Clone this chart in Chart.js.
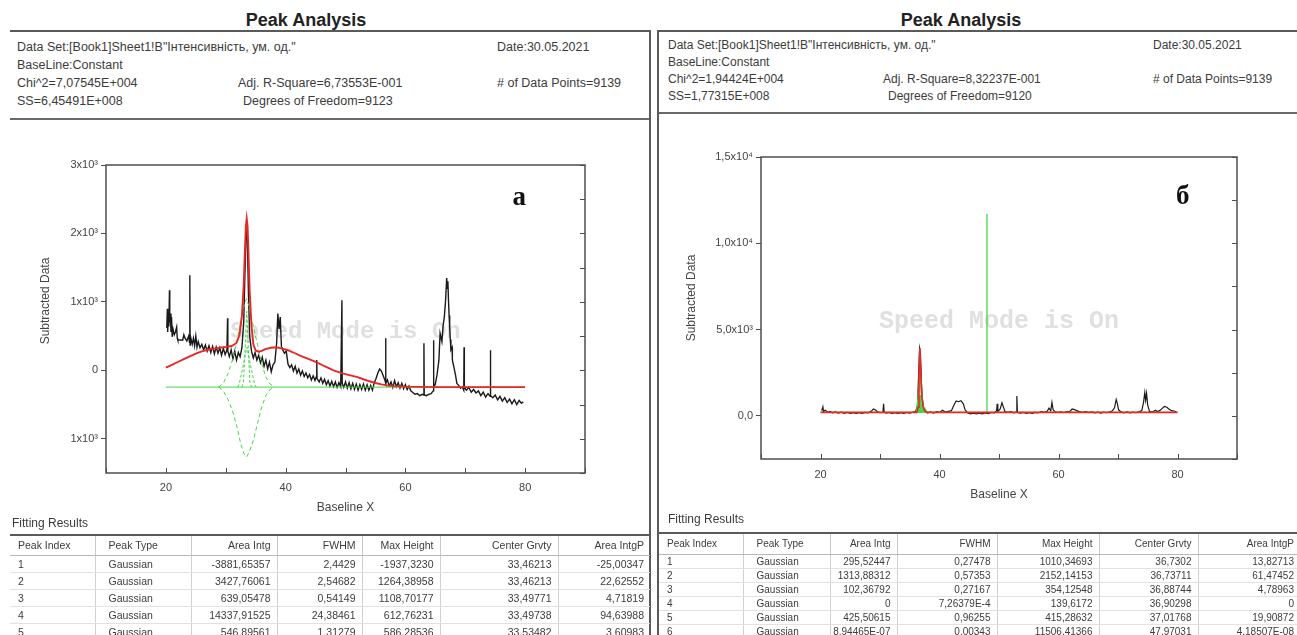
<!DOCTYPE html>
<html>
<head>
<meta charset="utf-8">
<title>Peak Analysis</title>
<script src="https://cdn.jsdelivr.net/npm/chart.js@4.4.1/dist/chart.umd.min.js"></script>
<style>
  html, body { margin: 0; padding: 0; background: #fff; }
  body { width: 1297px; height: 635px; position: relative; overflow: hidden;
         font-family: "Liberation Sans", Arial, sans-serif; color: #3c3c3c; }
  .title { position: absolute; font-weight: bold; font-size: 18px; line-height: 20px; color: #222;
           transform: translateX(-50%); white-space: nowrap; }
  .rule { position: absolute; background: #5a5a5a; }
  .info { position: absolute; line-height: 14px; white-space: nowrap; }
  .caption { position: absolute; font-size: 12px; line-height: 14px; white-space: nowrap; }
  canvas { position: absolute; }
  table.res { position: absolute; border-collapse: collapse; table-layout: fixed; color: #3c3c3c; }
  table.res th { font-weight: normal; border-top: 2px solid #5a5a5a; border-bottom: 1px solid #b8b8b8;
                 border-left: 1px solid #c8c8c8; white-space: nowrap; overflow: hidden; padding: 0 6px 0 2px; text-align: right; }
  table.res td { border-left: 1px solid #d0d0d0; border-bottom: 1px solid #e2e2e2; white-space: nowrap;
                 overflow: hidden; padding: 0 6px 0 2px; text-align: right; }
  table.res th:first-child, table.res td:first-child { border-left: none; text-align: left; padding-left: 8px; }
  table.res th:nth-child(2), table.res td:nth-child(2) { text-align: left; padding-left: 13px; }
</style>
</head>
<body>

<div class="title" style="left:306px; top:10px;">Peak Analysis</div>
<div class="title" style="left:961px; top:10px;">Peak Analysis</div>

<!-- report frames -->
<div class="rule" style="left:10px; top:30px; width:641px; height:2px;"></div>
<div class="rule" style="left:10px; top:118px; width:641px; height:2px; background:#6a6a6a;"></div>
<div class="rule" style="left:649px; top:30px; width:2px; height:605px;"></div>
<div class="rule" style="left:657px; top:30px; width:640px; height:2px;"></div>
<div class="rule" style="left:657px; top:112px; width:640px; height:2px; background:#6a6a6a;"></div>
<div class="rule" style="left:657px; top:30px; width:2px; height:605px;"></div>

<div id="infoA"></div>
<div id="infoB"></div>

<canvas id="chartA" width="650" height="380" style="left:0px; top:140px;"></canvas>
<canvas id="chartB" width="642" height="380" style="left:655px; top:135px;"></canvas>

<div class="caption" style="left:12px; top:516px;">Fitting Results</div>
<div class="caption" style="left:668px; top:512px;">Fitting Results</div>
<div id="tableA"></div>
<div id="tableB"></div>

<script>
// ---------- report header texts ----------
const dataSetText = 'Data Set:[Book1]Sheet1!B"Інтенсивність, ум. од."';
const dateText = 'Date:30.05.2021';
const baselineText = 'BaseLine:Constant';
const statsA = ['Chi^2=7,07545E+004', 'Adj. R-Square=6,73553E-001', '# of Data Points=9139', 'SS=6,45491E+008', 'Degrees of Freedom=9123'];
const statsB = ['Chi^2=1,94424E+004', 'Adj. R-Square=8,32237E-001', '# of Data Points=9139', 'SS=1,77315E+008', 'Degrees of Freedom=9120'];

// ---------- fitting results ----------
const tableHeader = ['Peak Index', 'Peak Type', 'Area Intg', 'FWHM', 'Max Height', 'Center Grvty', 'Area IntgP'];
const peakIndexA = ['1', '2', '3', '4', '5'];
const peakTypeA  = ['Gaussian', 'Gaussian', 'Gaussian', 'Gaussian', 'Gaussian'];
const areaA      = ['-3881,65357', '3427,76061', '639,05478', '14337,91525', '546,89561'];
const fwhmA      = ['2,4429', '2,54682', '0,54149', '24,38461', '1,31279'];
const heightA    = ['-1937,3230', '1264,38958', '1108,70177', '612,76231', '586,28536'];
const centerA    = ['33,46213', '33,46213', '33,49771', '33,49738', '33,53482'];
const areaPctA   = ['-25,00347', '22,62552', '4,71819', '94,63988', '3,60983'];

const peakIndexB = ['1', '2', '3', '4', '5', '6'];
const peakTypeB  = ['Gaussian', 'Gaussian', 'Gaussian', 'Gaussian', 'Gaussian', 'Gaussian'];
const areaB      = ['295,52447', '1313,88312', '102,36792', '0', '425,50615', '8,94465E-07'];
const fwhmB      = ['0,27478', '0,57353', '0,27167', '7,26379E-4', '0,96255', '0,00343'];
const heightB    = ['1010,34693', '2152,14153', '354,12548', '139,6172', '415,28632', '11506,41366'];
const centerB    = ['36,7302', '36,73711', '36,88744', '36,90298', '37,01768', '47,97031'];
const areaPctB   = ['13,82713', '61,47452', '4,78963', '0', '19,90872', '4,18507E-08'];

// ---------- axes ----------
const xTicks = [20, 40, 60, 80];
const yTicksA = [-1000, 0, 1000, 2000, 3000];
const yLabelsA = ['1x10³', '0', '1x10³', '2x10³', '3x10³'];
const yTicksB = [0, 5000, 10000, 15000];
const yLabelsB = ['0,0', '5,0x10³', '1,0x10⁴', '1,5x10⁴'];

// ---------- chart (а): subtracted data, cumulative fit, peaks ----------
const dataA = [
  [20.15,620],[20.25,900],[20.3,560],[20.4,760],[20.5,640],[20.6,1170],[20.65,700],[20.75,830],[20.85,560],[20.95,780],
  [21.05,490],[21.2,600],[21.4,520],[21.6,560],[21.8,630],[21.9,470],[22.0,440],[22.4,445],[22.8,440],[23.0,520],
  [23.2,470],[23.5,430],[23.8,500],[23.95,410],[24.0,1390],[24.05,360],[24.2,460],[24.4,380],[24.6,470],[24.8,360],
  [25.0,500],[25.2,340],[25.4,420],[25.7,330],[26.0,380],[26.3,300],[26.6,370],[26.9,280],[27.2,360],[27.5,260],
  [27.8,350],[28.1,240],[28.4,340],[28.7,250],[29.0,330],[29.3,220],[29.6,320],[29.9,230],[30.2,300],[30.3,760],
  [30.35,280],[30.6,200],[30.9,300],[31.2,170],[31.5,280],[31.8,150],[32.1,260],[32.4,200],[32.7,330],[33.0,700],
  [33.2,1400],[33.4,2000],[33.5,2100],[33.6,1950],[33.8,1100],[34.0,500],[34.3,280],[34.6,180],[34.9,260],[35.2,150],
  [35.5,220],[35.8,110],[36.1,190],[36.4,60],[36.7,150],[37.0,20],[37.3,120],[37.6,-20],[37.9,80],[38.2,120],
  [38.5,400],[38.7,830],[38.9,600],[39.1,780],[39.3,350],[39.5,300],[39.8,250],[40.1,280],[40.4,90],[40.7,40],
  [41.0,80],[41.3,-10],[41.6,60],[41.9,-40],[42.2,20],[42.5,-70],[42.8,-10],[43.1,-90],[43.4,-40],[43.7,-110],
  [44.0,-60],[44.3,-140],[44.6,-80],[44.9,-150],[45.15,-90],[45.2,150],[45.25,-120],[45.6,-170],[45.9,-110],[46.2,-190],
  [46.5,-130],[46.8,-210],[47.1,-150],[47.4,-230],[47.7,-160],[48.0,-240],[48.3,-170],[48.6,-250],[48.9,-180],[49.2,-240],
  [49.4,1025],[49.45,-190],[49.7,-250],[50.0,-170],[50.3,-260],[50.6,-180],[50.9,-270],[51.2,-190],[51.5,-280],[51.8,-200],
  [52.1,-290],[52.4,-210],[52.7,-280],[53.0,-200],[53.3,-290],[53.6,-210],[53.9,-290],[54.2,-220],[54.5,-290],[54.8,-180],
  [55.1,-120],[55.4,-40],[55.7,20],[56.0,-10],[56.3,-80],[56.6,-150],[56.7,468],[56.75,-190],[57.0,-140],[57.3,-230],
  [57.6,-170],[57.9,-250],[58.2,-150],[58.5,-240],[58.8,-180],[59.1,-260],[59.4,-190],[59.7,-270],[60.0,-210],[60.3,-280],
  [60.6,-230],[60.9,-300],[61.2,-320],[61.6,-350],[62.0,-340],[62.4,-370],[62.8,-350],[63.05,-360],[63.1,395],[63.15,-360],
  [63.5,-370],[63.9,-350],[64.3,-340],[64.65,-300],[64.7,439],[64.75,-260],[65.0,-200],[65.3,-60],[65.6,150],[65.8,540],
  [66.1,420],[66.3,650],[66.5,776],[66.7,1000],[66.9,1347],[67.0,1200],[67.1,1300],[67.2,1025],[67.3,800],[67.4,630],
  [67.5,450],[67.6,300],[67.8,337],[67.85,150],[68.1,50],[68.4,-80],[68.6,-190],[68.9,-220],[69.2,-260],[69.5,-240],
  [69.75,-290],[69.8,337],[69.85,-250],[70.2,-290],[70.6,-250],[71.0,-320],[71.4,-280],[71.8,-330],[72.2,-300],[72.6,-370],
  [73.0,-320],[73.4,-390],[73.8,-340],[74.15,-380],[74.2,293],[74.25,-370],[74.6,-400],[75.0,-360],[75.4,-430],[75.8,-380],
  [76.2,-450],[76.6,-400],[77.0,-470],[77.4,-420],[77.8,-490],[78.2,-430],[78.6,-500],[79.0,-440],[79.4,-480],[79.7,-460]
];
const fitA = [
  [20,40],[21,80],[22,122],[23,165],[24,205],[25,245],[26,278],[27,300],[28,317],[29,330],[30,341],[31,355],
  [31.8,400],[32.3,520],[32.7,800],[33.0,1250],[33.2,1750],[33.35,2100],[33.5,2220],[33.65,2100],[33.8,1700],
  [34.0,1150],[34.3,650],[34.6,380],[35.0,290],[35.5,270],[36.0,285],[36.6,310],[37.5,330],[38.5,337],[39.5,318],
  [40.5,290],[41.2,264],[42.5,210],[44.0,160],[45.2,117],[46.5,60],[48.0,0],[49.5,-45],[50.8,-73],[52.0,-100],
  [53.0,-130],[54.0,-160],[55.0,-185],[56.0,-205],[57.0,-220],[58.0,-230],[60.0,-238],[62.0,-242],[65.0,-245],[80.0,-245]
];
const baseA = [[20,-245],[80,-245]];
const peakNegA = [
  [28.8,-245],[29.6,-300],[30.4,-430],[31.1,-585],[31.8,-800],[32.5,-1073],[33.0,-1210],[33.46,-1268],
  [33.9,-1200],[34.6,-1024],[35.3,-780],[36.0,-537],[36.7,-370],[37.4,-280],[38.2,-245]
];
const peakPosA = [
  [28.8,-245],[29.6,-190],[30.4,-40],[31.1,146],[31.8,400],[32.5,700],[33.0,920],[33.46,1050],
  [33.9,930],[34.6,640],[35.3,380],[36.0,100],[36.7,-102],[37.4,-200],[38.2,-245]
];
const peakNarrowA = [[32.7,-245],[32.96,-176],[33.23,309],[33.5,863],[33.77,309],[34.04,-176],[34.3,-245]];
const peakMidA = [[32.0,-245],[32.22,-208],[32.88,48],[33.53,341],[34.19,48],[34.84,-208],[35.1,-245]];

// ---------- chart (б) ----------
const dataB = [
  [20.2,300],[20.4,520],[20.5,260],[20.8,330],[21.2,210],[21.6,260],[22.0,180],[22.5,230],[23.0,160],[23.5,210],
  [24.0,150],[24.5,200],[25.0,150],[25.5,190],[26.0,140],[26.5,190],[27.0,150],[27.5,200],[28.0,170],[28.5,260],
  [28.9,400],[29.3,330],[29.6,230],[30.0,190],[30.5,200],[30.6,700],[30.7,210],[31.0,160],[31.5,200],[32.0,150],
  [32.5,190],[33.0,140],[33.5,190],[34.0,150],[34.5,200],[35.0,160],[35.5,210],[36.0,260],[36.3,600],[36.5,2500],
  [36.65,3900],[36.8,3600],[36.95,2000],[37.1,1100],[37.3,500],[37.6,250],[38.0,170],[38.5,230],[39.0,160],[39.5,250],
  [40.0,200],[40.5,330],[41.0,220],[41.5,260],[42.0,300],[42.4,600],[42.8,860],[43.2,820],[43.6,880],[44.0,700],
  [44.3,350],[44.7,180],[45.2,120],[45.7,160],[46.2,110],[46.7,150],[47.2,120],[47.7,170],[48.2,130],[48.7,200],
  [49.2,170],[49.6,300],[49.7,700],[49.8,250],[50.2,400],[50.5,760],[50.8,450],[51.0,250],[51.5,200],[52.0,240],
  [52.5,180],[52.9,220],[53.0,1150],[53.1,200],[53.6,160],[54.1,200],[54.6,150],[55.1,190],[55.6,140],[56.1,200],
  [56.6,170],[57.1,250],[57.6,200],[58.1,260],[58.4,450],[58.7,300],[58.9,780],[59.1,350],[59.4,240],[59.9,200],
  [60.4,230],[60.9,190],[61.4,240],[61.9,260],[62.3,400],[62.7,360],[63.1,300],[63.6,230],[64.1,200],[64.6,250],
  [65.1,190],[65.6,230],[66.1,170],[66.6,220],[67.1,160],[67.6,210],[68.1,180],[68.6,230],[69.0,280],[69.4,450],
  [69.7,950],[69.9,700],[70.1,350],[70.5,230],[71.0,180],[71.5,230],[72.0,170],[72.5,220],[73.0,180],[73.5,230],
  [74.0,300],[74.3,800],[74.5,1350],[74.65,900],[74.8,1300],[75.0,600],[75.3,260],[75.8,220],[76.3,330],[76.6,250],
  [77.0,300],[77.4,420],[77.8,540],[78.2,500],[78.6,380],[79.0,300],[79.4,280],[79.8,240]
];
const fitB = [[20,200],[36.2,200],[36.4,500],[36.55,2200],[36.7,3940],[36.85,2600],[37.0,1200],[37.2,600],[37.5,300],[37.8,200],[80,200]];
const baseB = [[20,200],[80,200]];
const peak1B = [[36.45,200],[36.59,705],[36.73,1210],[36.87,705],[37.01,200]];
const peak2B = [[36.16,200],[36.45,1276],[36.737,2352],[37.02,1276],[37.31,200]];
const peak3B = [[36.62,200],[36.75,377],[36.887,554],[37.02,377],[37.16,200]];
const peak4B = [[36.9,200],[36.903,340],[36.906,200]];
const peak5B = [[36.06,200],[36.54,408],[37.018,615],[37.5,408],[37.98,200]];
const peak6B = [[47.96,200],[47.97,11706],[47.98,200]];

// ---------- header blocks ----------
function buildInfo(id, cols, tops, size, stats) {
  const rows = [
    [dataSetText, null, dateText],
    [baselineText, null, null],
    [stats[0], stats[1], stats[2]],
    [stats[3], stats[4], null]
  ];
  let html = '';
  rows.forEach((r, i) => r.forEach((t, j) => {
    if (t === null) return;
    const dx = (i === 3 && j === 1) ? 5 : 0;
    html += `<div class="info" style="font-size:${size}px; left:${cols[j] + dx}px; top:${tops[i]}px;">${t.replace(/</g,'&lt;')}</div>`;
  }));
  document.getElementById(id).innerHTML = html;
}
buildInfo('infoA', [17, 238, 497], [40, 58, 76, 94], 12.5, statsA);
buildInfo('infoB', [668, 883, 1153], [38, 55, 72, 89], 12, statsB);

// ---------- tables ----------
function buildTable(id, left, top, widths, headH, rowH, size, cols) {
  let html = `<table class="res" style="left:${left}px; top:${top}px; font-size:${size}px; width:${widths.reduce((a, b) => a + b, 0)}px;">`;
  html += '<colgroup>' + widths.map(w => `<col style="width:${w}px">`).join('') + '</colgroup>';
  html += `<tr style="height:${headH}px">` + tableHeader.map(h => `<th>${h}</th>`).join('') + '</tr>';
  for (let r = 0; r < cols[0].length; r++) {
    html += `<tr style="height:${rowH}px">` + cols.map(c => `<td>${c[r]}</td>`).join('') + '</tr>';
  }
  document.getElementById(id).innerHTML = html + '</table>';
}
buildTable('tableA', 10, 534, [85, 96, 86, 85, 78, 118, 92], 20, 17, 10.5,
  [peakIndexA, peakTypeA, areaA, fwhmA, heightA, centerA, areaPctA]);
buildTable('tableB', 659, 532, [84, 87, 67, 100, 102, 99, 102], 21, 14, 10,
  [peakIndexB, peakTypeB, areaB, fwhmB, heightB, centerB, areaPctB]);

// ---------- chart helpers ----------
const pts = arr => arr.map(p => ({ x: p[0], y: p[1] }));
const RED = 'rgb(232,40,36)';
const GREEN = 'rgb(70,215,70)';
const BLACK = '#1a1a1a';

function series(arr, color, width, order, extra) {
  return Object.assign({ data: pts(arr), borderColor: color, borderWidth: width, showLine: true,
    pointRadius: 0, order: order, fill: false, tension: 0 }, extra || {});
}

// frame, inward ticks, axis title, watermark and panel letter
const framePlugin = {
  id: 'frame',
  beforeDatasetsDraw(chart, args, o) {
    const { ctx, scales: { x, y } } = chart;
    ctx.save();
    ctx.font = 'bold ' + o.markSize + 'px "Liberation Mono", "Courier New", monospace';
    ctx.fillStyle = '#e0e0e0';
    ctx.textAlign = 'center';
    ctx.textBaseline = 'middle';
    ctx.fillText('Speed Mode is On', x.getPixelForValue(o.markAt[0]), y.getPixelForValue(o.markAt[1]));
    ctx.restore();
  },
  afterDatasetsDraw(chart, args, o) {
    const { ctx, chartArea: a, scales: { x, y } } = chart;
    ctx.save();
    ctx.strokeStyle = '#4e4e4e';
    ctx.lineWidth = 1.5;
    ctx.strokeRect(a.left, a.top, a.right - a.left, a.bottom - a.top);
    ctx.lineWidth = 1;
    ctx.beginPath();
    for (let v = y.min; v <= y.max + 1e-6; v += o.yMinor) {
      const py = Math.round(y.getPixelForValue(v)) + 0.5;
      ctx.moveTo(a.right, py); ctx.lineTo(a.right - 5, py);
    }
    for (let v = x.min; v <= x.max + 1e-6; v += 10) {
      const px = Math.round(x.getPixelForValue(v)) + 0.5;
      ctx.moveTo(px, a.bottom); ctx.lineTo(px, a.bottom - 5);
    }
    ctx.stroke();
    // y axis title
    ctx.save();
    ctx.translate(a.left - o.yTitleGap, (a.top + a.bottom) / 2 - o.yTitleLift);
    ctx.rotate(-Math.PI / 2);
    ctx.font = '12px "Liberation Sans", Arial, sans-serif';
    ctx.fillStyle = '#444';
    ctx.textAlign = 'center';
    ctx.textBaseline = 'middle';
    ctx.fillText('Subtracted Data', 0, 0);
    ctx.restore();
    // panel letter
    ctx.font = 'bold 27px "Liberation Serif", "DejaVu Serif", serif';
    ctx.fillStyle = '#111';
    ctx.textAlign = 'center';
    ctx.textBaseline = 'middle';
    ctx.fillText(o.letter, x.getPixelForValue(o.letterAt[0]), y.getPixelForValue(o.letterAt[1]));
    ctx.restore();
  }
};

function makeChart(canvasId, datasets, cfg) {
  const tickFont = { family: '"Liberation Sans", Arial, sans-serif', size: 11 };
  const titleFont = { family: '"Liberation Sans", Arial, sans-serif', size: 12 };
  return new Chart(document.getElementById(canvasId), {
    type: 'scatter',
    data: { datasets },
    plugins: [framePlugin],
    options: {
      responsive: false, animation: false, devicePixelRatio: 1,
      layout: { padding: { left: 0, right: cfg.padRight, top: cfg.padTop, bottom: 0 } },
      plugins: { legend: { display: false }, tooltip: { enabled: false }, frame: cfg.frame },
      scales: {
        x: {
          type: 'linear', min: 10, max: 90,
          afterBuildTicks: s => { s.ticks = xTicks.map(v => ({ value: v })); },
          afterFit: s => { s.height = cfg.xHeight; },
          ticks: { font: tickFont, color: '#444', padding: cfg.xLabelPad, maxRotation: 0, callback: v => String(v) },
          grid: { display: false, drawTicks: false },
          border: { display: false },
          title: { display: true, text: 'Baseline X', font: titleFont, color: '#444',
                   padding: { top: 0, bottom: cfg.xTitlePad } }
        },
        y: {
          type: 'linear', min: cfg.yMin, max: cfg.yMax,
          afterBuildTicks: s => { s.ticks = cfg.yTicks.map(v => ({ value: v })); },
          afterFit: s => { s.width = 106; },
          ticks: { font: tickFont, color: '#444', padding: 3,
                   callback: v => cfg.yLabels[cfg.yTicks.indexOf(v)] },
          grid: { display: true, drawOnChartArea: false, drawTicks: true, tickLength: 5, color: '#4e4e4e', lineWidth: 1 },
          border: { display: false },
          title: { display: false }
        }
      }
    }
  });
}

makeChart('chartA', [
  series(fitA, RED, 1.9, 0),
  series(peakNarrowA, GREEN, 1, 1, { borderDash: [3, 2] }),
  series(peakMidA, GREEN, 1, 1, { borderDash: [3, 2] }),
  series(peakPosA, GREEN, 1, 1, { borderDash: [4, 3] }),
  series(peakNegA, GREEN, 1, 1, { borderDash: [4, 3] }),
  series(baseA, GREEN, 1, 2),
  series(dataA, BLACK, 1.4, 3)
], {
  padRight: 65, padTop: 25, xHeight: 47, xLabelPad: 8, xTitlePad: 5,
  yMin: -1500, yMax: 3000, yTicks: yTicksA, yLabels: yLabelsA,
  frame: { yMinor: 500, markAt: [50, 560], markSize: 24, letter: 'а', letterAt: [79, 2520],
           yTitleGap: 60, yTitleLift: 18 }
});

makeChart('chartB', [
  series(fitB, RED, 1.6, 0),
  series(peak6B, GREEN, 1.3, 1),
  series(peak2B, GREEN, 1.5, 1),
  series(peak1B, GREEN, 1.5, 1, { fill: { value: 200 }, backgroundColor: 'rgba(70,215,70,0.95)' }),
  series(peak3B, GREEN, 1.5, 1, { fill: { value: 200 }, backgroundColor: 'rgba(70,215,70,0.95)' }),
  series(peak4B, GREEN, 1, 1),
  series(peak5B, GREEN, 1.5, 1, { fill: { value: 200 }, backgroundColor: 'rgba(70,215,70,0.95)' }),
  series(baseB, GREEN, 1, 2),
  series(dataB, BLACK, 1.2, 3)
], {
  padRight: 60, padTop: 22, xHeight: 56, xLabelPad: 9, xTitlePad: 13,
  yMin: -2500, yMax: 15000, yTicks: yTicksB, yLabels: yLabelsB,
  frame: { yMinor: 2500, markAt: [50, 5480], markSize: 25, letter: 'б', letterAt: [80.9, 12690],
           yTitleGap: 69, yTitleLift: 10 }
});
</script>
</body>
</html>
